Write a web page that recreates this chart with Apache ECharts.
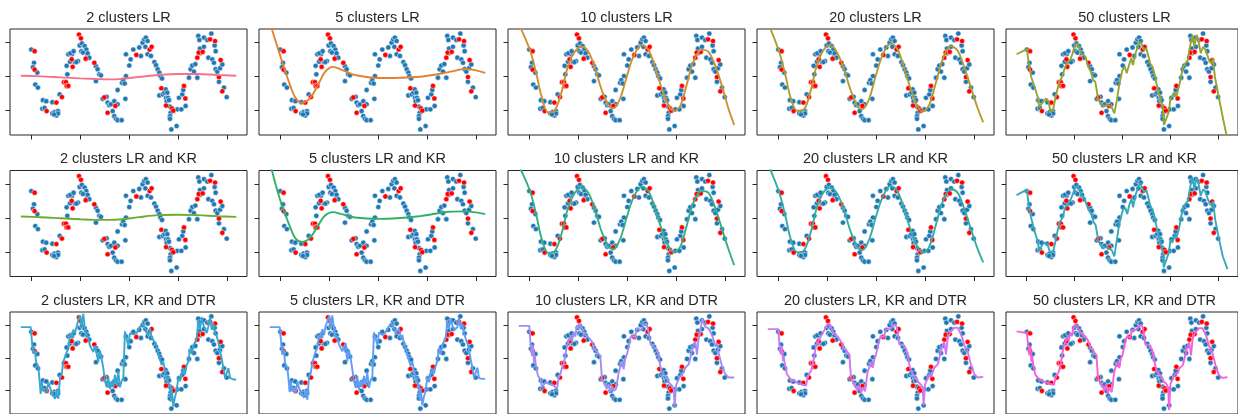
<!DOCTYPE html>
<html><head><meta charset="utf-8">
<style>html,body{margin:0;padding:0;background:#fff}#c{width:1238px;height:414px}</style>
</head><body><div id="c"></div>
<script src="https://cdn.jsdelivr.net/npm/echarts@6/dist/echarts.min.js"></script>
<script>
// ---------- data ----------
const clusters = [2, 5, 10, 20, 50];
const methods = ['LR', 'LR and KR', 'LR, KR and DTR'];
const xTicks = [0, 5, 10, 15, 20];
const yTicks = [-1, 0, 1];

const blueX = [0.03,0.31,0.20,0.65,0.44,0.71,1.22,1.56,1.16,1.39,2.18,2.18,2.41,2.76,2.59,2.76,2.35,2.93,3.71,3.64,4.18,4.46,4.80,3.81,3.98,4.63,4.01,4.35,4.97,5.20,5.48,5.65,5.14,5.31,5.75,5.78,5.95,6.63,6.80,6.97,7.14,6.63,7.72,7.31,7.82,7.99,8.16,8.50,8.84,8.33,8.50,8.67,8.84,9.25,8.84,9.29,9.63,9.69,9.69,10.03,10.17,10.44,11.05,11.22,11.39,11.56,11.73,11.90,11.67,11.90,12.24,12.59,12.76,12.93,13.10,13.20,13.37,13.10,13.44,13.61,13.78,13.74,13.91,13.98,13.84,14.25,14.18,14.18,14.32,14.86,14.93,15.34,15.78,15.10,15.44,15.54,16.12,16.29,16.46,16.97,16.63,16.77,17.07,17.18,17.65,18.40,18.74,18.84,18.10,18.50,18.67,18.84,19.01,19.29,19.52,19.18,19.69,19.97,17.24,17.65,17.24,17.99,14.18,14.08,9.42,9.56];
const blueY = [0.80,0.41,0.28,0.12,-0.23,-0.32,-0.69,-0.72,-0.94,-0.92,-0.75,-1.08,-1.04,-1.01,-1.14,-1.08,-1.11,-0.52,0.07,0.32,0.66,0.43,0.46,0.66,0.44,0.43,0.69,0.75,0.92,0.98,0.90,0.80,0.75,0.71,0.61,0.69,0.56,0.31,0.22,0.07,0.04,-0.13,-0.59,-0.65,-0.76,-0.84,-0.81,-0.72,-0.81,-1.01,-1.16,-1.24,-1.28,-1.28,-0.39,-0.18,-0.65,0.02,0.66,0.33,0.51,0.80,0.86,0.61,1.00,1.10,1.15,1.05,0.88,0.66,0.61,0.43,0.34,0.22,0.12,0.02,-0.05,-0.55,-0.52,-0.47,-0.62,-0.37,-0.47,-0.62,-0.72,-1.06,-1.16,-1.24,-1.55,-1.45,-0.96,-0.96,-0.86,-0.62,-0.52,-0.39,-0.03,0.22,0.33,-0.03,0.15,0.37,1.20,1.08,1.15,1.27,0.92,0.75,0.56,0.51,0.41,0.22,0.15,0.25,0.36,-0.15,-0.32,-0.60,0.83,0.88,0.69,1.08,-0.88,-0.69,-0.10,-0.20];
const redX = [0.37,0.37,1.60,2.59,3.16,3.37,3.57,3.64,3.81,4.15,4.25,4.90,5.10,5.58,6.46,7.48,7.82,8.61,10.75,12.11,12.31,11.90,13.30,13.78,14.39,14.52,15.61,15.75,16.97,17.11,17.52,18.27,18.78,19.35,19.18,19.52];
const redY = [0.75,0.21,-1.01,-0.76,-0.60,-0.16,-0.16,-0.27,-0.27,0.51,0.29,1.24,1.13,0.53,0.41,-0.61,-1.06,-0.86,0.64,0.80,0.88,1.47,-0.34,-0.85,-0.93,-1.00,-0.27,-0.64,0.56,0.71,0.73,1.10,1.05,0.49,-0.01,-0.43];

// model curves, one per panel: [x, y]
const lr2 = [[-1.04,0.03],[1,0.01],[3,-0.02],[5,-0.05],[7,-0.07],[8,-0.08],[9,-0.07],[11,-0.01],[13,0.05],[15,0.08],[17,0.08],[19,0.05],[20.94,0.03]];
const lr5 = [[-1.04,1.6],[0,0.64],[1.02,-0.24],[1.6,-0.63],[2.24,-0.77],[3.06,-0.63],[3.88,-0.24],[4.6,0.14],[5.4,0.29],[6.3,0.2],[7.65,0.05],[10.2,-0.04],[14.3,0.0],[17.3,0.14],[18.9,0.23],[20.94,0.11]];
const lr10 = [[-1.04,1.55],[0.1,0.78],[0.78,0.05],[1.29,-0.59],[1.97,-1.05],[2.65,-0.98],[3.33,-0.44],[4.01,0.34],[4.69,0.74],[5.37,0.88],[6.05,0.74],[6.73,0.25],[7.42,-0.39],[8.1,-0.83],[8.6,-0.93],[9.29,-0.64],[9.97,0],[10.65,0.59],[11.5,0.93],[12.17,0.79],[12.86,0.29],[13.54,-0.34],[14.22,-0.83],[14.73,-1.01],[15.4,-0.88],[16.09,-0.24],[16.77,0.44],[17.62,0.79],[18.3,0.74],[18.98,0.34],[19.66,-0.24],[20.34,-0.93],[20.94,-1.42]];
const lr20 = [[-1.04,1.6],[0.1,0.75],[0.78,0.02],[1.29,-0.62],[1.97,-1.0],[2.65,-0.96],[3.33,-0.42],[4.01,0.38],[4.69,0.8],[5.37,0.92],[6.05,0.7],[6.73,0.22],[7.42,-0.4],[8.1,-0.86],[8.6,-0.96],[9.29,-0.66],[9.97,0.02],[10.65,0.62],[11.5,0.98],[12.17,0.82],[12.86,0.26],[13.54,-0.36],[14.22,-0.86],[14.73,-1.03],[15.4,-0.85],[16.09,-0.2],[16.77,0.48],[17.62,0.9],[18.3,0.78],[18.98,0.3],[19.66,-0.3],[20.34,-0.9],[20.94,-1.34]];
const lr50 = [[-1.04,0.66],[0.03,0.81],[0.24,0.39],[0.48,0],[0.82,-0.29],[1.16,-0.59],[1.33,-0.9],[1.6,-0.78],[1.84,-0.69],[2.07,-0.64],[2.28,-0.74],[2.52,-1.03],[2.76,-0.98],[2.93,-0.74],[3.2,-0.39],[3.44,-0.15],[3.71,0],[3.98,0.25],[4.22,0.41],[4.56,0.49],[4.8,0.69],[5.0,0.88],[5.24,0.98],[5.48,0.88],[5.68,0.69],[5.92,0.64],[6.15,0.59],[6.43,0.29],[6.7,0.15],[6.94,-0.1],[7.17,-0.15],[7.45,-0.64],[7.72,-0.8],[8.06,-0.86],[8.47,-0.83],[8.88,-0.9],[9.15,-1.08],[9.42,-0.69],[9.66,-0.24],[9.83,0],[10.0,0.2],[10.24,0.29],[10.44,0.1],[10.68,0.34],[10.92,0.54],[11.09,0.34],[11.36,0.69],[11.6,0.88],[11.8,1.03],[12.04,0.93],[12.21,0.79],[12.48,0.84],[12.72,0.59],[12.89,0.39],[13.13,0.29],[13.4,0],[13.64,-0.34],[13.91,-0.59],[14.18,-0.88],[14.32,-1.42],[14.59,-1.22],[14.83,-1.03],[15.0,-0.64],[15.2,-0.69],[15.44,-0.49],[15.61,-0.59],[15.88,-0.29],[16.12,0],[16.29,0.29],[16.56,0.39],[16.8,0.49],[16.97,0.79],[17.14,1.03],[17.31,1.23],[17.48,0.88],[17.72,1.23],[17.89,1.08],[18.16,0.69],[18.4,0.88],[18.67,0.79],[18.84,0.64],[19.08,0.44],[19.29,0.39],[19.42,0.54],[19.63,0],[20.03,-0.59],[20.44,-1.18],[20.94,-1.85]];

const kr2 = [[-1.04,0.05],[1,0.03],[3,0.0],[5,-0.03],[7,-0.05],[8,-0.05],[9,-0.04],[11,0.03],[13,0.09],[15,0.10],[17,0.09],[19,0.06],[20.94,0.04]];
const kr5 = [[-1.04,1.65],[0,0.55],[1.02,-0.25],[1.6,-0.6],[2.24,-0.7],[3.06,-0.58],[3.88,-0.22],[4.6,0.08],[5.4,0.18],[6.3,0.12],[7.65,0.02],[10.2,-0.02],[14.3,0.06],[17.3,0.19],[18.9,0.2],[20.94,0.12]];
const kr10 = [[-1.04,1.55],[0.1,0.8],[0.78,0.05],[1.29,-0.6],[1.97,-1.02],[2.65,-0.97],[3.33,-0.45],[4.01,0.33],[4.69,0.75],[5.37,0.9],[6.05,0.75],[6.73,0.25],[7.42,-0.4],[8.1,-0.82],[8.6,-0.92],[9.29,-0.62],[9.97,0.02],[10.65,0.6],[11.5,0.92],[12.17,0.8],[12.86,0.3],[13.54,-0.33],[14.22,-0.82],[14.73,-1.0],[15.4,-0.86],[16.09,-0.22],[16.77,0.45],[17.62,0.8],[18.3,0.75],[18.98,0.32],[19.66,-0.28],[20.34,-0.9],[20.94,-1.38]];
const kr20 = [[-1.04,1.6],[0.1,0.78],[0.78,0.04],[1.29,-0.6],[1.97,-1.0],[2.65,-0.95],[3.33,-0.43],[4.01,0.36],[4.69,0.78],[5.37,0.9],[6.05,0.72],[6.73,0.24],[7.42,-0.4],[8.1,-0.84],[8.6,-0.94],[9.29,-0.64],[9.97,0.02],[10.65,0.6],[11.5,0.95],[12.17,0.8],[12.86,0.28],[13.54,-0.35],[14.22,-0.84],[14.73,-1.02],[15.4,-0.86],[16.09,-0.22],[16.77,0.46],[17.62,0.85],[18.3,0.76],[18.98,0.3],[19.66,-0.3],[20.34,-0.88],[20.94,-1.3]];
const kr50 = [[-1.04,0.68],[0.03,0.84],[0.2,0.45],[0.45,0.05],[0.8,-0.35],[1.1,-0.62],[1.35,-0.95],[1.6,-0.8],[1.9,-0.72],[2.2,-0.78],[2.5,-1.05],[2.8,-0.95],[3.0,-0.7],[3.25,-0.35],[3.5,-0.1],[3.8,0.05],[4.0,0.3],[4.3,0.42],[4.6,0.55],[4.85,0.72],[5.05,0.9],[5.3,0.95],[5.5,0.85],[5.75,0.65],[6.0,0.6],[6.2,0.55],[6.45,0.25],[6.75,0.12],[7.0,-0.12],[7.2,-0.2],[7.5,-0.68],[7.8,-0.82],[8.1,-0.84],[8.5,-0.86],[8.9,-0.95],[9.15,-1.12],[9.4,-0.66],[9.65,-0.2],[9.85,0.05],[10.05,0.25],[10.3,0.3],[10.5,0.12],[10.7,0.38],[10.95,0.58],[11.1,0.32],[11.4,0.72],[11.65,0.9],[11.85,1.05],[12.05,0.9],[12.25,0.76],[12.5,0.82],[12.75,0.55],[12.9,0.36],[13.15,0.25],[13.4,-0.05],[13.65,-0.38],[13.9,-0.62],[14.15,-0.92],[14.3,-1.45],[14.6,-1.2],[14.85,-1.0],[15.0,-0.62],[15.2,-0.72],[15.45,-0.5],[15.6,-0.6],[15.9,-0.3],[16.1,0.02],[16.3,0.3],[16.55,0.42],[16.8,0.5],[17.0,0.82],[17.15,1.05],[17.3,1.2],[17.5,0.85],[17.7,1.2],[17.9,1.05],[18.15,0.66],[18.4,0.85],[18.65,0.78],[18.85,0.6],[19.1,0.42],[19.3,0.36],[19.45,0.5],[19.65,-0.02],[20.05,-0.6],[20.45,-1.12],[20.94,-1.5]];

const dtr2 = [[-1.04,0.94],[-0.03,0.94],[0.14,0.37],[0.24,0.13],[0.41,0.23],[0.51,-0.12],[0.75,-0.26],[0.85,-0.61],[0.99,-1.1],[1.09,-0.71],[1.26,-1.0],[1.43,-0.95],[1.6,-1.05],[1.77,-0.75],[1.94,-0.9],[2.11,-1.05],[2.28,-1.1],[2.45,-1.25],[2.62,-1.0],[2.79,-1.25],[2.96,-0.61],[3.13,-0.51],[3.3,-0.12],[3.47,-0.17],[3.64,0.18],[3.81,0.27],[3.98,0.72],[4.15,0.62],[4.32,0.86],[4.49,0.76],[4.66,0.96],[4.83,1.16],[5.0,1.3],[5.17,0.96],[5.34,1.35],[5.51,0.86],[5.68,0.72],[5.85,0.62],[6.02,0.37],[6.36,0.18],[6.53,0.37],[6.7,0.42],[6.87,-0.12],[7.04,0.23],[7.21,-0.02],[7.38,-0.31],[7.55,-0.71],[7.72,-0.9],[7.89,-0.61],[8.06,-0.95],[8.23,-0.71],[8.4,-0.9],[8.57,-0.51],[8.74,-0.85],[8.91,-0.41],[9.08,-0.9],[9.25,-0.71],[9.42,-0.61],[9.59,0.81],[9.76,0.76],[9.93,0.37],[10.1,0.76],[10.44,0.72],[10.61,0.67],[10.78,0.76],[10.95,0.86],[11.12,0.96],[11.46,1.01],[11.63,0.91],[11.8,0.76],[11.97,0.67],[12.14,0.91],[12.31,0.62],[12.48,0.67],[12.65,0.47],[12.82,0.37],[12.99,0.13],[13.16,0.08],[13.33,-0.22],[13.5,-0.12],[13.67,-0.36],[13.84,-0.61],[14.01,-0.56],[14.18,-0.9],[14.25,-1.34],[14.35,-0.9],[14.52,-1.49],[14.69,-1.2],[14.86,-1.0],[15.03,-0.61],[15.2,-0.71],[15.37,-0.51],[15.54,-0.31],[15.71,-0.51],[15.88,-0.22],[16.05,-0.12],[16.22,0.27],[16.39,0.13],[16.56,0.37],[16.73,0.47],[16.9,0.57],[17.07,1.16],[17.24,0.86],[17.41,1.25],[17.59,1.01],[17.76,0.86],[17.93,0.76],[18.1,0.96],[18.27,1.25],[18.44,0.86],[18.61,1.06],[18.78,0.76],[18.95,0.67],[19.12,0.47],[19.29,0.23],[19.46,-0.02],[19.63,-0.31],[19.8,-0.61],[19.97,-0.61],[20.14,-0.31],[20.31,-0.61],[20.65,-0.66],[20.94,-0.66]];
const dtr5 = [[-1.04,0.94],[-0.03,0.94],[0.14,0.42],[0.24,0.1],[0.41,0.25],[0.51,-0.15],[0.75,-0.3],[0.85,-0.58],[0.99,-1.05],[1.09,-0.7],[1.26,-1.02],[1.43,-0.9],[1.6,-1.08],[1.77,-0.72],[1.94,-0.92],[2.11,-1.02],[2.28,-1.12],[2.45,-1.22],[2.62,-0.98],[2.79,-1.28],[2.96,-0.58],[3.13,-0.48],[3.3,-0.15],[3.47,-0.2],[3.64,0.2],[3.81,0.3],[3.98,0.7],[4.15,0.6],[4.32,0.88],[4.49,0.72],[4.66,0.98],[4.83,1.12],[5.0,1.28],[5.17,0.92],[5.34,1.3],[5.51,0.9],[5.68,0.7],[5.85,0.6],[6.02,0.4],[6.36,0.2],[6.53,0.35],[6.7,0.45],[6.87,-0.1],[7.04,0.25],[7.21,0.0],[7.38,-0.35],[7.55,-0.7],[7.72,-0.92],[7.89,-0.58],[8.06,-0.98],[8.23,-0.68],[8.4,-0.88],[8.57,-0.55],[8.74,-0.82],[8.91,-0.45],[9.08,-0.92],[9.25,-0.68],[9.42,-0.58],[9.59,0.78],[9.76,0.72],[9.93,0.4],[10.1,0.78],[10.44,0.7],[10.61,0.65],[10.78,0.78],[10.95,0.84],[11.12,0.98],[11.46,1.0],[11.63,0.92],[11.8,0.74],[11.97,0.7],[12.14,0.9],[12.31,0.6],[12.48,0.7],[12.65,0.45],[12.82,0.4],[12.99,0.1],[13.16,0.1],[13.33,-0.25],[13.5,-0.1],[13.67,-0.38],[13.84,-0.58],[14.01,-0.6],[14.18,-0.88],[14.25,-1.3],[14.35,-0.92],[14.52,-1.45],[14.69,-1.18],[14.86,-1.02],[15.03,-0.58],[15.2,-0.74],[15.37,-0.48],[15.54,-0.34],[15.71,-0.48],[15.88,-0.25],[16.05,-0.1],[16.22,0.3],[16.39,0.1],[16.56,0.4],[16.73,0.45],[16.9,0.6],[17.07,1.12],[17.24,0.88],[17.41,1.22],[17.59,1.0],[17.76,0.84],[17.93,0.78],[18.1,0.94],[18.27,1.22],[18.44,0.88],[18.61,1.04],[18.78,0.74],[18.95,0.7],[19.12,0.44],[19.29,0.25],[19.46,-0.05],[19.63,-0.3],[19.8,-0.6],[19.97,-0.62],[20.14,-0.3],[20.31,-0.62],[20.65,-0.64],[20.94,-0.64]];
const dtr10 = [[-1.04,0.98],[0.03,0.98],[0.14,0.5],[0.24,0.3],[0.31,0.05],[0.41,0.4],[0.51,-0.15],[0.58,0.1],[0.71,-0.25],[0.92,-0.55],[1.16,-0.65],[1.33,-0.9],[1.67,-0.75],[2.07,-0.8],[2.52,-0.85],[2.86,-0.95],[3.03,-0.6],[3.2,-0.5],[3.37,-0.3],[3.54,-0.2],[3.71,0.1],[3.88,0.35],[4.05,0.5],[4.22,0.65],[4.39,0.5],[4.56,0.8],[4.73,0.65],[4.9,1.0],[5.0,0.9],[5.14,1.05],[5.34,0.95],[5.58,0.8],[5.75,0.7],[6.09,0.62],[6.43,0.5],[6.6,0.3],[6.77,0.25],[7.04,0.15],[7.28,0.05],[7.45,-0.65],[7.62,-0.75],[7.79,-0.85],[7.96,-0.95],[8.13,-0.8],[8.3,-1.05],[8.47,-0.85],[8.64,-1.0],[8.88,-0.95],[9.15,-0.45],[9.49,-0.1],[9.66,-0.35],[9.83,0.0],[10.0,0.1],[10.17,0.15],[10.34,0.6],[10.51,0.7],[10.78,0.6],[11.02,0.9],[11.19,0.95],[11.46,0.85],[11.7,1.0],[11.94,1.05],[12.14,0.9],[12.38,0.45],[12.55,0.5],[12.72,0.35],[12.89,0.35],[13.06,0.25],[13.23,0.05],[13.4,-0.25],[13.57,-0.45],[13.74,-0.5],[13.91,-0.55],[14.25,-0.75],[14.59,-0.85],[14.76,-0.95],[14.86,-1.5],[15.0,-0.85],[15.27,-0.65],[15.44,-0.55],[15.61,-0.6],[15.78,-0.45],[15.95,-0.3],[16.29,-0.2],[16.46,0.0],[16.63,0.2],[16.8,0.4],[16.97,0.5],[17.14,0.1],[17.31,0.6],[17.48,0.75],[17.65,1.2],[17.99,0.95],[18.33,0.9],[18.5,0.95],[18.67,0.7],[18.84,0.55],[19.01,0.35],[19.18,0.45],[19.35,0.15],[19.69,-0.25],[20.03,-0.5],[20.37,-0.6],[20.94,-0.6]];
const dtr20 = [[-1.04,0.88],[0.03,0.88],[0.14,0.45],[0.24,0.25],[0.31,0.1],[0.41,0.35],[0.51,-0.1],[0.58,0.05],[0.71,-0.2],[0.92,-0.5],[1.16,-0.6],[1.33,-0.7],[1.67,-0.7],[2.07,-0.78],[2.52,-0.82],[2.86,-0.85],[3.03,-0.6],[3.2,-0.48],[3.37,-0.4],[3.54,-0.2],[3.71,0.05],[3.88,0.38],[4.05,0.45],[4.22,0.6],[4.39,0.55],[4.56,0.75],[4.73,0.7],[4.9,0.95],[5.0,0.92],[5.14,1.05],[5.34,0.98],[5.58,0.82],[5.75,0.72],[6.09,0.65],[6.43,0.5],[6.6,0.38],[6.77,0.25],[7.04,0.2],[7.28,0.1],[7.45,-0.6],[7.62,-0.72],[7.79,-0.8],[7.96,-0.92],[8.13,-1.0],[8.3,-0.82],[8.47,-1.08],[8.64,-0.9],[8.88,-1.02],[9.15,-0.42],[9.49,-0.15],[9.66,-0.3],[9.83,-0.05],[10.0,0.1],[10.17,0.12],[10.34,0.55],[10.51,0.68],[10.78,0.62],[11.02,0.88],[11.19,0.92],[11.46,0.88],[11.7,0.98],[11.94,1.02],[12.14,0.92],[12.38,0.42],[12.55,0.48],[12.72,0.4],[12.89,0.36],[13.06,0.28],[13.23,0.08],[13.4,-0.2],[13.57,-0.4],[13.74,-0.48],[13.91,-0.52],[14.25,-0.72],[14.59,-0.82],[14.76,-0.9],[14.86,-1.45],[15.0,-0.82],[15.27,-0.62],[15.44,-0.5],[15.61,-0.58],[15.78,-0.45],[15.95,-0.3],[16.29,-0.2],[16.46,0.0],[16.63,0.2],[16.8,0.38],[16.97,0.48],[17.14,0.1],[17.31,0.58],[17.48,0.72],[17.65,0.82],[17.99,0.92],[18.33,0.92],[18.5,0.9],[18.67,0.72],[18.84,0.58],[19.01,0.38],[19.18,0.42],[19.35,0.2],[19.69,-0.2],[20.03,-0.5],[20.37,-0.6],[20.94,-0.58]];
const dtr50 = [[-1.04,0.81],[0.03,0.76],[0.14,0.47],[0.24,0.27],[0.31,0.08],[0.41,0.37],[0.51,-0.12],[0.58,0.08],[0.71,-0.22],[0.92,-0.51],[1.16,-0.61],[1.33,-0.66],[1.67,-0.71],[2.07,-0.75],[2.52,-0.8],[2.86,-0.82],[3.03,-0.61],[3.2,-0.51],[3.37,-0.41],[3.54,-0.22],[3.71,0.08],[3.88,0.37],[4.05,0.47],[4.22,0.62],[4.39,0.52],[4.56,0.76],[4.73,0.67],[4.9,0.96],[5.0,0.91],[5.14,1.01],[5.34,0.96],[5.58,0.81],[5.75,0.72],[6.09,0.67],[6.43,0.52],[6.6,0.37],[6.77,0.27],[7.04,0.18],[7.28,0.08],[7.45,-0.61],[7.62,-0.71],[7.79,-0.8],[7.96,-0.9],[8.13,-1.0],[8.3,-0.8],[8.47,-1.1],[8.64,-0.9],[8.88,-1.05],[9.15,-0.41],[9.49,-0.12],[9.66,-0.31],[9.83,-0.02],[10.0,0.08],[10.17,0.13],[10.34,0.57],[10.51,0.67],[10.78,0.62],[11.02,0.86],[11.19,0.91],[11.46,0.86],[11.7,0.96],[11.94,1.01],[12.14,0.91],[12.38,0.42],[12.55,0.47],[12.72,0.39],[12.89,0.37],[13.06,0.27],[13.23,0.08],[13.4,-0.22],[13.57,-0.41],[13.74,-0.46],[13.91,-0.51],[14.25,-0.71],[14.59,-0.8],[14.76,-0.9],[14.86,-1.59],[15.0,-0.8],[15.27,-0.61],[15.44,-0.51],[15.61,-0.56],[15.78,-0.46],[15.95,-0.31],[16.29,-0.22],[16.46,-0.02],[16.63,0.18],[16.8,0.37],[16.97,0.47],[17.14,0.08],[17.31,0.57],[17.48,0.72],[17.65,0.81],[17.99,0.91],[18.33,0.91],[18.5,0.91],[18.67,0.72],[18.84,0.57],[19.01,0.37],[19.18,0.42],[19.35,0.18],[19.69,-0.22],[20.03,-0.51],[20.37,-0.61],[20.94,-0.59]];

const curves = [[lr2, lr5, lr10, lr20, lr50], [kr2, kr5, kr10, kr20, kr50], [dtr2, dtr5, dtr10, dtr20, dtr50]];
const palette = ['#f77189','#e5822f','#ce9032','#b39b31','#97a431','#6dac31','#32b166','#34af86','#36ada4','#37aab9','#39a7d0','#5f9ef2','#a48cf4','#d476f3','#f561dd'];

// ---------- layout ----------
const colLeft = [10, 259, 508, 757, 1006];
const rowTop = [29, 170.5, 312];
const W = 237, H = 106;
const X_MIN = -2.14, X_MAX = 22.04, Y_MIN = -1.715, Y_MAX = 1.403;

const grid = [], xAxis = [], yAxis = [], series = [], title = [];
const blue = blueX.map((x, i) => [x, blueY[i]]);
const red = redX.map((x, i) => [x, redY[i]]);
let k = 0;
for (let r = 0; r < 3; r++) {
  for (let c = 0; c < 5; c++) {
    grid.push({left: colLeft[c], top: rowTop[r], width: W, height: H, show: true,
      borderColor: '#262626', borderWidth: 1, backgroundColor: 'transparent', containLabel: false});
    xAxis.push({gridIndex: k, type: 'value', min: X_MIN, max: X_MAX, position: 'bottom',
      axisLine: {show: false, onZero: false}, splitLine: {show: false},
      axisLabel: {show: false, customValues: xTicks},
      axisTick: {show: true, length: 4.5, inside: false, customValues: xTicks, lineStyle: {color: '#262626', width: 1}}});
    yAxis.push({gridIndex: k, type: 'value', min: Y_MIN, max: Y_MAX, position: 'left',
      axisLine: {show: false, onZero: false}, splitLine: {show: false},
      axisLabel: {show: false, customValues: yTicks},
      axisTick: {show: true, length: 4.5, inside: false, customValues: yTicks, lineStyle: {color: '#262626', width: 1}}});
    title.push({text: clusters[c] + ' clusters ' + methods[r], left: colLeft[c] + W / 2, top: rowTop[r] - 19,
      textAlign: 'center', padding: 0,
      textStyle: {fontSize: 14.5, fontWeight: 'normal', color: '#262626', fontFamily: '"Liberation Sans", Arial, sans-serif'}});
    series.push({type: 'scatter', xAxisIndex: k, yAxisIndex: k, data: blue, symbolSize: 5.2, z: 2,
      itemStyle: {color: '#1f77b4', borderColor: '#ffffff', borderWidth: 0.5, opacity: 1}});
    series.push({type: 'scatter', xAxisIndex: k, yAxisIndex: k, data: red, symbolSize: 5.2, z: 3,
      itemStyle: {color: '#ff0000', borderColor: '#ffffff', borderWidth: 0.5, opacity: 1}});
    const smoothLine = (r < 2 && c < 4);
    series.push({type: 'line', xAxisIndex: k, yAxisIndex: k, data: curves[r][c], showSymbol: false, symbol: 'none',
      smooth: smoothLine ? 0.35 : false, clip: true, z: 4,
      lineStyle: {color: palette[k], width: 1.9}});
    k++;
  }
}

const chart = echarts.init(document.getElementById('c'), null, {renderer: 'canvas'});
chart.setOption({animation: false, grid, xAxis, yAxis, series, title});
</script></body></html>
